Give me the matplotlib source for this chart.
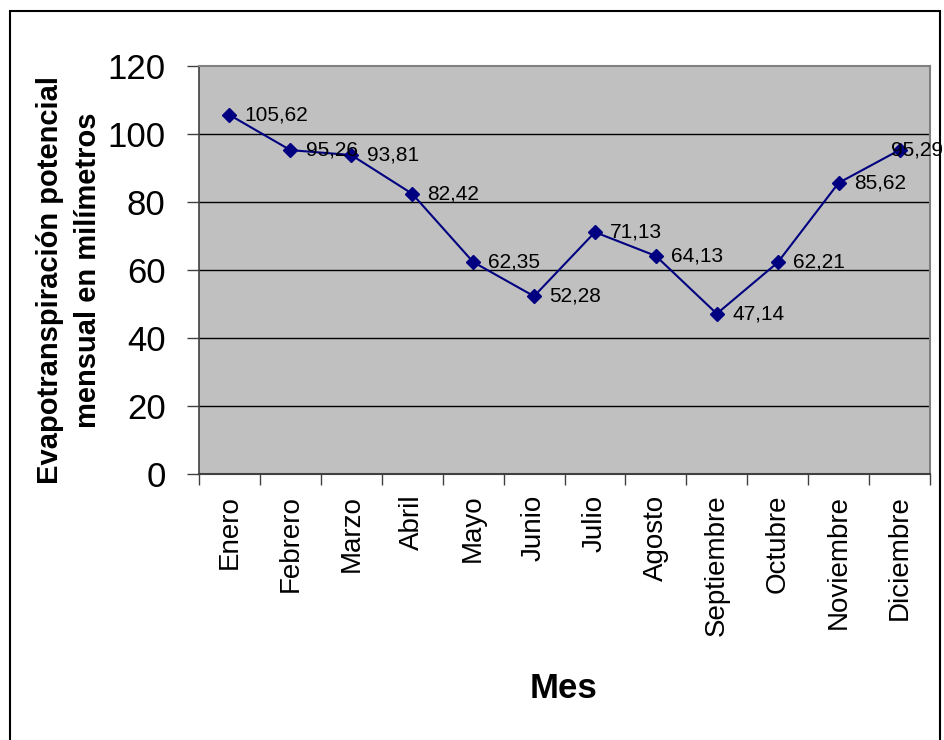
import matplotlib.pyplot as plt
from matplotlib.patches import Rectangle
import numpy as np

meses = ["Enero", "Febrero", "Marzo", "Abril", "Mayo", "Junio", "Julio",
         "Agosto", "Septiembre", "Octubre", "Noviembre", "Diciembre"]
etp = [105.62, 95.26, 93.81, 82.42, 62.35, 52.28, 71.13, 64.13, 47.14, 62.21, 85.62, 95.29]
yticks = [0, 20, 40, 60, 80, 100, 120]

fuente = ["Liberation Sans", "DejaVu Sans"]

fig = plt.figure(figsize=(9.44, 7.4), dpi=100)
ax = fig.add_axes([199 / 944, 1 - 474 / 740, 731 / 944, 408 / 740])
ax.set_facecolor("#c0c0c0")

x = np.arange(len(meses))
ax.plot(x, etp, color="#000080", lw=1.5, marker="D", ms=7, mfc="#000080", mec="#000080", zorder=3)

# etiquetas de datos a la derecha de cada punto (la ultima se corre para caber)
for i, v in enumerate(etp):
    dx = 11 if i < len(etp) - 1 else -6
    ax.annotate(f"{v:.2f}".replace(".", ","), (i, v), xytext=(dx, 0), textcoords="offset points",
                ha="left", va="center", fontsize=15, family=fuente, zorder=4, annotation_clip=False)

ax.set_xlim(-0.5, len(meses) - 0.5)
ax.set_ylim(0, 120)
ax.set_yticks(yticks)
ax.set_yticklabels([str(t) for t in yticks], fontsize=25, family=fuente)
ax.tick_params(axis="y", length=9, width=1, color="#404040", pad=15)
for t in yticks[1:-1]:
    ax.axhline(t, color="black", lw=1, zorder=1)

ax.set_xticks(x)
ax.set_xticklabels(meses, rotation=90, fontsize=20, family=fuente, va="top", ha="center")
ax.set_xticks(np.arange(-0.5, len(meses)), minor=True)
ax.tick_params(axis="x", which="major", length=0, pad=15)
ax.tick_params(axis="x", which="minor", length=8, width=1, color="#404040")

for s in ["top", "right"]:
    ax.spines[s].set_color("#808080")
    ax.spines[s].set_linewidth(1.5)
ax.spines["left"].set_color("#404040")
ax.spines["bottom"].set_color("#404040")
ax.spines["left"].set_linewidth(1.2)
ax.spines["bottom"].set_linewidth(1.5)

fig.text(50 / 944, 1 - 280 / 740, "Evapotranspiración potencial", rotation=90, ha="center", va="center",
         fontsize=21, fontweight="bold", family=fuente)
fig.text(88 / 944, 1 - 270 / 740, "mensual en milímetros", rotation=90, ha="center", va="center",
         fontsize=21, fontweight="bold", family=fuente)
fig.text(564 / 944, 1 - 689 / 740, "Mes", ha="center", va="center", fontsize=25, fontweight="bold", family=fuente)

# marco exterior del grafico
fig.patches.append(Rectangle((10 / 944, -0.02), 930 / 944, 1.02 - 11 / 740, transform=fig.transFigure,
                             fill=False, edgecolor="black", lw=1.5))

fig.savefig("out.png", dpi=100)
